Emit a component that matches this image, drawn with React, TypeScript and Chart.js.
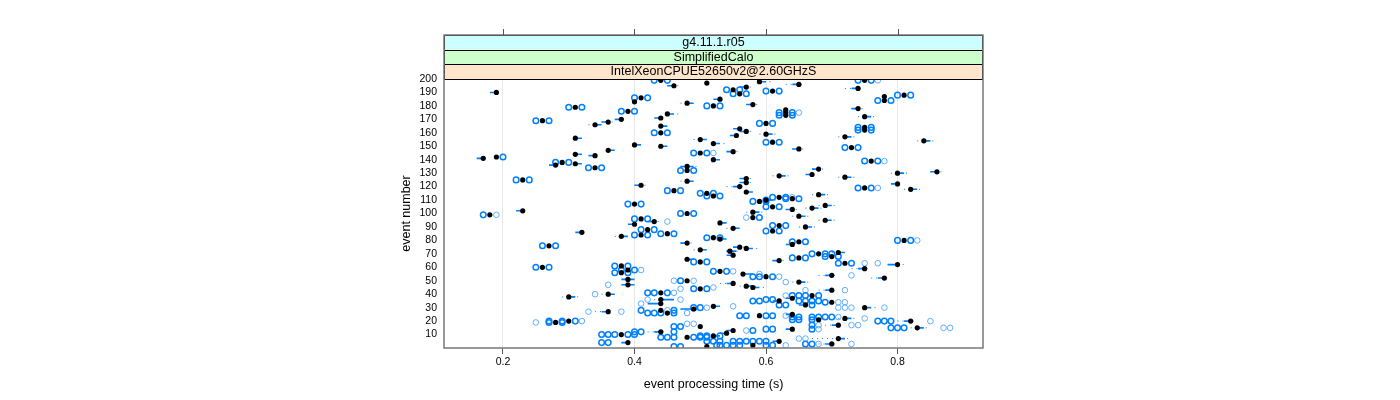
import React, { useEffect, useRef } from "react";
import { Chart, registerables } from "chart.js";

Chart.register(...registerables);

const xTicks = [0.2, 0.4, 0.6, 0.8];
const yTicks = [10,20,30,40,50,60,70,80,90,100,110,120,130,140,150,160,170,180,190,200];
const stripLabels = ["g4.11.1.r05", "SimplifiedCalo", "IntelXeonCPUE52650v2@2.60GHzS"];
const stripColours = ["#ccffff", "#ccffcc", "#ffe5cc"];

// [event, median time]
const medians: number[][] = [
[199,.44],[199,.75],[198,.59],[197,.51],[196,.65],[195,.46],[194,.57],[193,.74],[192,.55],[191,.61],[190,.19],[189,.56],[188,.81],[187,.78],[186,.41],[185,.53],[184,.78],[183,.40],[182,.48],[181,.58],[180,.52],[179,.31],[178,.74],[177,.63],[176,.39],[175,.63],[174,.45],[173,.63],[172,.75],[171,.44],[170,.38],[169,.26],[168,.36],[167,.60],[166,.34],[165,.44],[164,.75],[163,.56],[162,.75],[161,.57],[160,.44],[159,.60],[158,.555],[157,.72],[156,.31],[155,.50],[154,.84],[153,.61],[152,.52],[151,.40],[150,.44],[149,.73],[148,.65],[147,.36],[146,.55],[145,.50],[144,.31],[143,.34],[142,.19],[141,.17],[140,.52],[139,.76],[138,.29],[137,.31],[136,.28],[135,.48],[134,.34],[133,.68],[132,.48],[131,.86],[130,.80],[129,.67],[128,.62],[127,.72],[126,.57],[125,.23],[124,.48],[123,.57],[122,.80],[121,.41],[120,.56],[119,.75],[118,.82],[117,.46],[116,.57],[115,.51],[114,.68],[113,.52],[112,.62],[111,.64],[110,.60],[109,.59],[107,.40],[106,.69],[105,.61],[104,.67],[103,.64],[102,.23],[101,.58],[100,.48],[99,.18],[98,.65],[97,.58],[96,.41],[95,.69],[94,.43],[93,.53],[92,.40],[91,.62],[90,.66],[89,.55],[88,.42],[87,.61],[86,.32],[85,.45],[84,.41],[83,.38],[82,.52],[81,.53],[80,.81],[79,.65],[78,.48],[77,.64],[76,.27],[75,.56],[74,.57],[73,.50],[72,.545],[71,.71],[70,.68],[69,.55],[68,.70],[67,.65],[66,.48],[65,.62],[64,.50],[63,.72],[62,.80],[61,.38],[60,.26],[59,.75],[58,.39],[57,.53],[56,.38],[55,.565],[54,.70],[53,.60],[52,.78],[51,.39],[50,.48],[49,.65],[48,.55],[47,.39],[46,.57],[45,.58],[44,.50],[43,.70],[41,.44],[40,.36],[39,.67],[38,.30],[37,.64],[36,.44],[35,.62],[34,.70],[33,.44],[32,.66],[31,.52],[30,.75],[29,.49],[28,.44],[27,.36],[26,.45],[25,.64],[24,.59],[22,.72],[21,.68],[20,.82],[20,.30],[19,.28],[17,.71],[16,.50],[15,.83],[14,.64],[13,.55],[12,.44],[11,.54],[10,.38],[9,.52],[8,.48],[7,.71],[5,.62],[4,.39],[3,.70],[2,.58],[1,.51]
];

// [event, box start, box end]
const boxes: number[][] = [
[198,.59,.60],[196,.64,.65],[195,.45,.46],[194,.56,.57],[193,.73,.74],[190,.18,.19],[185,.52,.53],[182,.48,.49],[181,.57,.58],[178,.73,.74],[174,.45,.46],[172,.75,.76],[171,.43,.44],[170,.37,.38],[168,.35,.36],[166,.34,.35],[165,.44,.45],[163,.55,.56],[161,.56,.57],[159,.60,.61],[158,.545,.555],[157,.72,.73],[156,.31,.32],[155,.50,.51],[154,.84,.85],[152,.52,.53],[151,.40,.41],[150,.44,.45],[148,.64,.65],[147,.36,.37],[146,.54,.55],[144,.31,.32],[143,.33,.34],[141,.16,.17],[140,.52,.53],[137,.31,.32],[136,.27,.28],[135,.47,.49],[133,.67,.68],[131,.85,.86],[130,.80,.81],[129,.66,.67],[128,.62,.63],[127,.72,.73],[126,.56,.57],[124,.48,.49],[123,.56,.57],[122,.79,.80],[121,.40,.41],[120,.55,.56],[118,.82,.83],[116,.57,.58],[114,.68,.69],[110,.60,.61],[106,.69,.70],[104,.67,.68],[103,.63,.64],[102,.22,.23],[101,.58,.59],[98,.65,.66],[95,.69,.70],[94,.42,.43],[93,.53,.54],[92,.39,.40],[90,.66,.67],[89,.55,.56],[86,.31,.32],[83,.38,.39],[81,.53,.54],[78,.47,.48],[77,.63,.64],[75,.55,.56],[74,.57,.58],[73,.50,.51],[72,.54,.555],[71,.71,.72],[69,.54,.55],[66,.48,.49],[65,.61,.62],[62,.785,.80],[59,.74,.75],[55,.565,.58],[54,.69,.70],[52,.77,.78],[51,.38,.40],[49,.65,.66],[48,.54,.55],[47,.38,.40],[46,.57,.58],[45,.58,.59],[43,.69,.70],[40,.36,.37],[38,.30,.31],[37,.63,.64],[36,.44,.46],[35,.61,.62],[33,.42,.44],[32,.65,.66],[31,.52,.53],[30,.75,.76],[29,.47,.49],[27,.35,.36],[25,.63,.64],[22,.72,.73],[20,.81,.82],[17,.70,.71],[15,.83,.84],[14,.63,.64],[13,.54,.55],[12,.43,.44],[11,.53,.54],[9,.52,.53],[7,.71,.72],[5,.61,.62],[4,.38,.39],[3,.69,.70]
];

// [event, whisker start, whisker end]
const whiskers: number[][] = [
[198,.59,.61],[196,.63,.66],[195,.45,.47],[194,.56,.58],[193,.72,.75],[182,.47,.49],[181,.57,.59],[178,.73,.75],[174,.45,.47],[172,.74,.77],[168,.35,.37],[166,.33,.35],[161,.56,.58],[159,.59,.62],[157,.71,.74],[155,.49,.51],[154,.83,.86],[152,.52,.54],[148,.64,.66],[146,.54,.56],[135,.47,.50],[133,.67,.69],[131,.85,.87],[130,.79,.82],[128,.61,.64],[127,.71,.74],[126,.56,.58],[124,.47,.49],[123,.56,.58],[121,.40,.42],[120,.54,.57],[118,.81,.84],[114,.67,.70],[110,.59,.62],[106,.68,.71],[104,.66,.69],[103,.63,.65],[101,.57,.60],[98,.64,.67],[95,.68,.71],[94,.42,.44],[90,.65,.68],[89,.54,.56],[83,.37,.39],[78,.47,.49],[75,.55,.57],[74,.57,.59],[73,.49,.51],[72,.54,.56],[71,.70,.72],[65,.61,.63],[62,.785,.81],[59,.73,.76],[54,.68,.71],[52,.76,.79],[49,.64,.67],[48,.53,.55],[46,.56,.59],[45,.58,.60],[43,.68,.71],[40,.35,.37],[38,.29,.32],[36,.43,.46],[30,.75,.77],[29,.47,.50],[27,.34,.36],[22,.71,.74],[20,.80,.83],[17,.69,.72],[15,.82,.85],[12,.42,.45],[7,.67,.73],[3,.68,.71]
];

// [event, times of outliers drawn strongly]
const heavyOutliers: number[][] = [
[199,.43,.45,.74,.76],[192,.54,.56],[191,.60,.62],[189,.55,.57],[188,.80,.82],[186,.40,.42],[184,.77,.79],[180,.51,.53],[179,.30,.32],[176,.38,.40],[175,.62,.64],[173,.62,.64],[169,.25,.27],[167,.59,.61],[164,.74,.76],[162,.74,.76],[160,.43,.45],[153,.60,.62],[149,.72,.74],[145,.49,.51],[142,.20],[139,.75,.77],[138,.28,.30],[134,.33,.35],[132,.47,.49],[125,.22,.24],[119,.74,.76],[117,.45,.47],[115,.50,.52],[113,.51,.53],[112,.61,.63],[111,.63,.65],[109,.58,.60],[110,.60],[107,.39,.41],[105,.60,.62],[100,.47,.49],[99,.17],[97,.59],[96,.40,.42],[91,.61,.63],[88,.41,.43],[87,.60,.62],[85,.44,.46],[84,.40,.42],[82,.51,.53],[80,.80,.82],[79,.64,.66],[76,.26,.28],[70,.67,.69,.70],[68,.69,.71],[67,.64,.66],[64,.49,.51],[63,.71,.73],[61,.37,.39],[60,.25,.27],[58,.38,.40],[57,.52,.54],[56,.37,.39],[53,.58,.59,.61],[50,.47],[44,.49,.51],[41,.42,.43,.45],[39,.64,.65,.66,.68],[36,.60,.61],[35,.58,.59,.65,.66,.67,.68],[34,.69],[32,.62,.63,.67],[30,.49,.50],[28,.41,.46],[26,.42,.43,.44,.46],[24,.56,.57,.60,.61],[23,.64,.65,.67,.68,.69,.70],[21,.64,.65,.67],[20,.27,.29,.31],[19,.27,.29],[20,.77,.78,.79],[17,.67],[16,.46,.47],[15,.79,.80,.81],[14,.60,.61,.67],[13,.58],[12,.40,.41,.46],[10,.35,.36,.37,.39,.40],[9,.50,.51,.53],[8,.44,.45,.46,.49,.50,.51],[5,.51,.52,.53,.55,.56,.57,.58,.59,.60],[4,.35,.36],[3,.66,.67],[2,.525,.53,.54,.55,.56,.60,.61],[1,.46,.47]
];

// [event, times of outliers drawn faintly]
const lightOutliers: number[][] = [
[199,.77],[175,.65],[145,.52],[139,.78],[119,.77],[112,.64],[99,.19],[97,.57],[94,.45],[80,.83],[63,.75,.77],[58,.41],[57,.55],[55,.59],[54,.73],[53,.62],[50,.46,.49],[49,.63],[47,.36],[45,.52],[44,.47],[43,.66,.72],[41,.46],[40,.34],[39,.63],[36,.42,.47],[34,.71,.72],[33,.41],[31,.55],[30,.71,.72,.73,.78,.51],[28,.45],[27,.33,.38],[26,.48],[24,.63],[22,.75],[23,.71],[20,.85,.32],[19,.25],[18,.48,.49],[17,.68,.73,.74],[15,.87,.88],[14,.68],[13,.57],[7,.65,.66],[3,.68,.73],[2,.63]
];

const expand = (rows: number[][]) =>
  rows.flatMap((r) => r.slice(1).map((t) => ({ x: t, y: r[0] })));
const segments = (rows: number[][]) =>
  rows.flatMap((r) => [{ x: r[1], y: r[0] }, { x: r[2], y: r[0] }, { x: null as any, y: null as any }]);

const stripPlugin = {
  id: "lattice",
  afterDraw(chart: any) {
    const { ctx, chartArea: a, scales } = chart;
    const top = a.top;
    const h = [14.5, 14.5, 15];
    ctx.save();
    let y = top - 44;
    stripLabels.forEach((label, i) => {
      ctx.fillStyle = stripColours[i];
      ctx.fillRect(a.left, y, a.right - a.left, h[i]);
      ctx.strokeStyle = "#000";
      ctx.lineWidth = 1;
      ctx.strokeRect(a.left + 0.5, Math.round(y) + 0.5, a.right - a.left - 1, Math.round(h[i]));
      ctx.fillStyle = "#000";
      ctx.font = '12.5px "Liberation Sans"';
      ctx.textAlign = "center";
      ctx.textBaseline = "middle";
      ctx.fillText(label, (a.left + a.right) / 2, y + h[i] / 2 + 0.5);
      y += h[i];
    });
    ctx.strokeStyle = "#777777";
    ctx.lineWidth = 1.5;
    ctx.strokeRect(a.left, top - 44, a.right - a.left, a.bottom - top + 44);
    ctx.lineWidth = 1;
    ctx.strokeStyle = "#555";
    xTicks.forEach((v) => {
      const px = Math.round(scales.x.getPixelForValue(v)) + 0.5;
      ctx.beginPath();
      ctx.moveTo(px, top - 50);
      ctx.lineTo(px, top - 44);
      ctx.stroke();
    });
    ctx.restore();
  },
};

export default function App() {
  const ref = useRef<HTMLCanvasElement>(null);
  useEffect(() => {
    const chart = new Chart(ref.current as HTMLCanvasElement, {
      type: "scatter",
      plugins: [stripPlugin],
      data: {
        datasets: [
          {
            label: "median",
            data: medians.map((m) => ({ x: m[1], y: m[0] })),
            pointRadius: 2.6,
            pointBackgroundColor: "#000",
            pointBorderColor: "#000",
            pointBorderWidth: 0,
            showLine: false,
          },
          {
            label: "box",
            data: segments(boxes),
            showLine: true,
            spanGaps: false,
            pointRadius: 0,
            borderColor: "#0080ff",
            borderWidth: 1.6,
          },
          {
            label: "whisker",
            data: segments(whiskers),
            showLine: true,
            spanGaps: false,
            pointRadius: 0,
            borderColor: "#0080ff",
            borderWidth: 1,
            borderDash: [1, 4],
          },
          {
            label: "outliers",
            data: expand(heavyOutliers),
            pointRadius: 2.8,
            pointBackgroundColor: "rgba(0,0,0,0)",
            pointBorderColor: "#0080ff",
            pointBorderWidth: 1.5,
            showLine: false,
          },
          {
            label: "faint outliers",
            data: expand(lightOutliers),
            pointRadius: 2.8,
            pointBackgroundColor: "rgba(0,0,0,0)",
            pointBorderColor: "#4da6ff",
            pointBorderWidth: 0.9,
            showLine: false,
          },
        ],
      },
      options: {
        responsive: false,
        animation: false,
        layout: { padding: { left: 399, right: 417, top: 79, bottom: 8 } },
        plugins: { legend: { display: false }, tooltip: { enabled: false } },
        scales: {
          x: {
            type: "linear",
            min: 0.1103,
            max: 0.93,
            afterBuildTicks: (axis: any) => {
              axis.ticks = xTicks.map((v) => ({ value: v }));
            },
            afterFit: (axis: any) => {
              axis.height = 44;
            },
            grid: { color: "#e8e8e8", lineWidth: 1, tickColor: "#555", tickLength: 6, drawOnChartArea: true },
            border: { display: false },
            ticks: {
              color: "#000",
              font: { family: '"Liberation Sans"', size: 10.5 },
              padding: 2,
              maxRotation: 0,
              callback: (v: any) => Number(v).toFixed(1),
            },
            title: {
              display: true,
              text: "event processing time (s)",
              color: "#000",
              font: { family: '"Liberation Sans"', size: 12.5 },
              padding: { top: 0, bottom: 0 },
            },
          },
          y: {
            type: "linear",
            min: 0,
            max: 200,
            afterBuildTicks: (axis: any) => {
              axis.ticks = yTicks.map((v) => ({ value: v }));
            },
            afterFit: (axis: any) => {
              axis.width = 45;
            },
            grid: { display: false, drawTicks: false },
            border: { display: false },
            ticks: {
              color: "#000",
              font: { family: '"Liberation Sans"', size: 10.5 },
              padding: 7,
              autoSkip: false,
            },
            title: {
              display: true,
              text: "event number",
              color: "#000",
              font: { family: '"Liberation Sans"', size: 12.5 },
              padding: { top: 0, bottom: 0 },
            },
          },
        },
      },
    } as any);
    return () => chart.destroy();
  }, []);
  return (
    <div style={{ position: "fixed", left: 0, top: 0, width: 1400, height: 400 }}>
      <canvas ref={ref} width={1400} height={400} style={{ display: "block" }} />
    </div>
  );
}
